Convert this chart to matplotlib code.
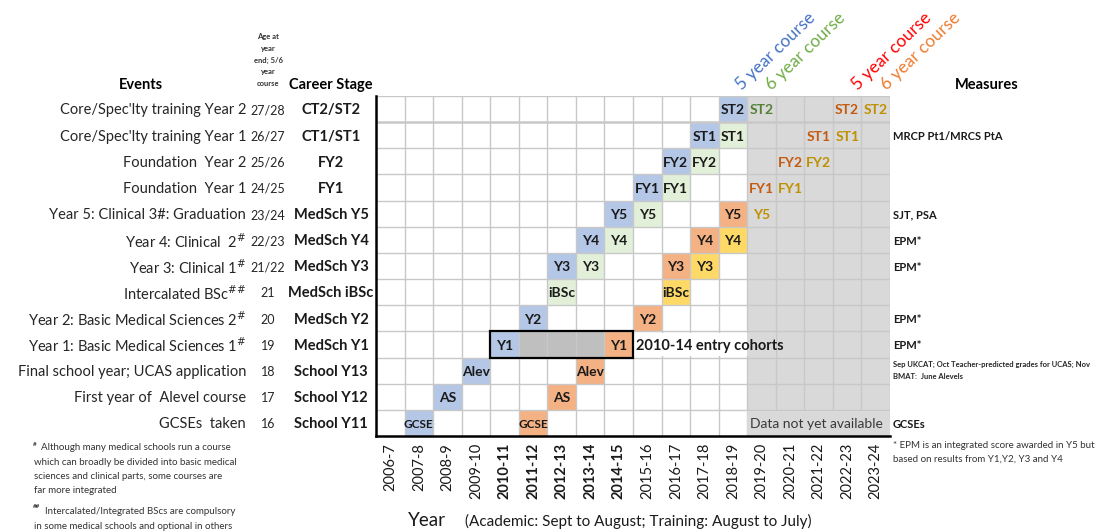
import matplotlib.pyplot as plt
from matplotlib.patches import Rectangle
from matplotlib.transforms import blended_transform_factory
import numpy as np

plt.rcParams['font.family'] = ['Lato', 'DejaVu Sans']

years = ['2006-7', '2007-8', '2008-9', '2009-10', '2010-11', '2011-12', '2012-13',
         '2013-14', '2014-15', '2015-16', '2016-17', '2017-18', '2018-19', '2019-20',
         '2020-21', '2021-22', '2022-23', '2023-24']
bold_years = ['2010-11', '2011-12', '2012-13', '2013-14', '2014-15']
first_missing_year = '2019-20'

stages = ['CT2/ST2', 'CT1/ST1', 'FY2', 'FY1', 'MedSch Y5', 'MedSch Y4', 'MedSch Y3',
          'MedSch iBSc', 'MedSch Y2', 'MedSch Y1', 'School Y13', 'School Y12', 'School Y11']
events = ["Core/Spec'lty training Year 2", "Core/Spec'lty training Year 1",
          'Foundation  Year 2', 'Foundation  Year 1', 'Year 5: Clinical 3#: Graduation',
          r'Year 4: Clinical  2$^{\#}$', r'Year 3: Clinical 1$^{\#}$',
          r'Intercalated BSc$^{\#\#}$', r'Year 2: Basic Medical Sciences 2$^{\#}$',
          r'Year 1: Basic Medical Sciences 1$^{\#}$', 'Final school year; UCAS application',
          'First year of  Alevel course', 'GCSEs  taken']
ages = ['27/28', '26/27', '25/26', '24/25', '23/24', '22/23', '21/22', '21', '20', '19',
        '18', '17', '16']
measures = ['', 'MRCP Pt1/MRCS PtA', '', '', 'SJT, PSA', 'EPM*', 'EPM*', '', 'EPM*',
            'EPM*', '', '', 'GCSEs']
ucas_note = 'Sep UKCAT; Oct Teacher-predicted grades for UCAS; Nov\nBMAT:  June Alevels'

# cohorts: (years, stages, labels)
five_2010_years = ['2007-8', '2008-9', '2009-10', '2010-11', '2011-12', '2012-13', '2013-14',
                   '2014-15', '2015-16', '2016-17', '2017-18', '2018-19']
five_2010_stages = ['School Y11', 'School Y12', 'School Y13', 'MedSch Y1', 'MedSch Y2',
                    'MedSch Y3', 'MedSch Y4', 'MedSch Y5', 'FY1', 'FY2', 'CT1/ST1', 'CT2/ST2']
five_2010_labels = ['GCSE', 'AS', 'Alev', 'Y1', 'Y2', 'Y3', 'Y4', 'Y5', 'FY1', 'FY2',
                    'ST1', 'ST2']

six_2010_years = ['2012-13', '2013-14', '2014-15', '2015-16', '2016-17', '2017-18',
                  '2018-19', '2019-20']
six_2010_stages = ['MedSch iBSc', 'MedSch Y3', 'MedSch Y4', 'MedSch Y5', 'FY1', 'FY2',
                   'CT1/ST1', 'CT2/ST2']
six_2010_labels = ['iBSc', 'Y3', 'Y4', 'Y5', 'FY1', 'FY2', 'ST1', 'ST2']

five_2014_years = ['2011-12', '2012-13', '2013-14', '2014-15', '2015-16', '2016-17',
                   '2017-18', '2018-19', '2019-20', '2020-21', '2021-22', '2022-23']
five_2014_stages = five_2010_stages
five_2014_labels = five_2010_labels

six_2014_years = ['2016-17', '2017-18', '2018-19', '2019-20', '2020-21', '2021-22',
                  '2022-23', '2023-24']
six_2014_stages = six_2010_stages
six_2014_labels = six_2010_labels

cohorts = [
    (five_2010_years, five_2010_stages, five_2010_labels, '#b4c7e7', '#4472c4', '5 year course'),
    (six_2010_years, six_2010_stages, six_2010_labels, '#e2f0d9', '#548235', '6 year course'),
    (five_2014_years, five_2014_stages, five_2014_labels, '#f4b183', '#c55a11', '5 year course'),
    (six_2014_years, six_2014_stages, six_2014_labels, '#ffd966', '#bf9000', '6 year course'),
]
heading_colors = ['#4472c4', '#70ad47', '#ff0000', '#ed7d31']

W, H = 1099, 532
fig = plt.figure(figsize=(W / 100, H / 100), dpi=100)
ax = fig.add_axes([376 / W, 1 - 436 / H, (890 - 376) / W, (436 - 96) / H])
nx, ny = len(years), len(stages)
ax.set_xlim(0, nx)
ax.set_ylim(ny, 0)
grid_c = '#c8c8c8'
miss = years.index(first_missing_year)

ax.add_patch(Rectangle((miss, 0), nx - miss, ny, color='#d9d9d9', lw=0, zorder=0))
for xv in range(1, nx + 1):
    ax.plot([xv, xv], [0, ny], color=grid_c, lw=1, zorder=2)
for yv in range(0, ny):
    ax.plot([0, nx], [yv, yv], color=grid_c, lw=1.8 if yv == 1 else 1, zorder=2)

for cy, cs, cl, fill, tcol, _ in cohorts:
    for y, s, lab in zip(cy, cs, cl):
        c, r = years.index(y), stages.index(s)
        if c < miss:
            ax.add_patch(Rectangle((c, r), 1, 1, color=fill, lw=0, zorder=1))
            col = '#1a1a1a'
        else:
            col = tcol
        fs = 8.5 if lab == 'GCSE' else 10
        ax.text(c + 0.5, r + 0.55, lab, ha='center', va='center', fontsize=fs,
                fontweight='bold', color=col, zorder=6)

# entry cohort box
r1 = stages.index('MedSch Y1')
c0, c1 = years.index('2010-11'), years.index('2014-15')
ax.add_patch(Rectangle((c0 + 1, r1), c1 - c0 - 1, 1, color='#bfbfbf', lw=0, zorder=1))
ax.add_patch(Rectangle((c0, r1), c1 - c0 + 1, 1, fill=False, ec='black', lw=1.6, zorder=5))
ax.add_patch(Rectangle((c1 + 1, r1 + 0.05), miss - c1 - 1, 0.9, color='white', lw=0, zorder=3))
ax.add_patch(Rectangle((miss, r1 + 0.05), 1, 0.9, color='#d9d9d9', lw=0, zorder=3))
ax.text(c1 + 1.1, r1 + 0.55, '2010-14 entry cohorts', ha='left', va='center',
        fontsize=10.5, fontweight='bold', color='#1a1a1a', zorder=6)

r12 = stages.index('School Y11')
ax.add_patch(Rectangle((miss, r12 + 0.05), nx - miss, 0.95, color='#d9d9d9', lw=0, zorder=3))
ax.text(miss + 0.1, r12 + 0.55, 'Data not yet available', ha='left', va='center',
        fontsize=10, color='#3a3a3a', zorder=6)

for sp in ['top', 'right']:
    ax.spines[sp].set_visible(False)
for sp in ['left', 'bottom']:
    ax.spines[sp].set_linewidth(1.8)
    ax.spines[sp].set_zorder(7)
ax.set_yticks([])
ax.set_xticks(np.arange(nx) + 0.5)
ax.set_xticklabels(years, rotation=90, fontsize=10.5, color='#1a1a1a')
for t in ax.get_xticklabels():
    if t.get_text() in bold_years:
        t.set_fontweight('bold')
ax.tick_params(axis='x', length=0, pad=5)

# row labels on the left and right
tr = blended_transform_factory(fig.transFigure, ax.transData)
for i in range(ny):
    yc = i + 0.55
    ax.text(246 / W, yc, events[i], transform=tr, ha='right', va='center', fontsize=10.5,
            color='#262626')
    ax.text(268 / W, yc, ages[i], transform=tr, ha='center', va='center', fontsize=9,
            color='#262626')
    ax.text(331 / W, yc, stages[i], transform=tr, ha='center', va='center', fontsize=10.5,
            fontweight='bold', color='#1a1a1a')
    if measures[i]:
        ax.text(893 / W, yc, measures[i], transform=tr, ha='left', va='center', fontsize=8,
                fontweight='bold', color='#1a1a1a')
ax.text(893 / W, stages.index('School Y13') + 0.5, ucas_note, transform=tr, ha='left',
        va='center', fontsize=5.5, fontweight='bold', color='#262626', linespacing=1.9)


def ftext(x, y, s, **kw):
    fig.text(x / W, 1 - y / H, s, **kw)


ftext(141, 85, 'Events', ha='center', va='center', fontsize=10.5, fontweight='bold')
ftext(331, 85, 'Career Stage', ha='center', va='center', fontsize=10.5, fontweight='bold')
ftext(987, 85, 'Measures', ha='center', va='center', fontsize=10.5, fontweight='bold')
ftext(268, 60, 'Age at\nyear\nend; 5/6\nyear\ncourse', ha='center', va='center',
      fontsize=5.5, fontweight='bold', color='#333333', linespacing=1.75)

starts = [742, 772, 858, 887]
for (cy, cs, cl, fill, tcol, head), x0, hc in zip(cohorts, starts, heading_colors):
    ftext(x0, 91, head, ha='left', va='baseline', rotation=44, rotation_mode='anchor',
          fontsize=12.5, color=hc)

ftext(893, 452, '* EPM is an integrated score awarded in Y5 but\nbased on results from Y1,Y2, Y3 and Y4',
      ha='left', va='center', fontsize=7, color='#333333', linespacing=1.7)

foot1 = ['Although many medical schools run a course',
         'which can broadly be divided into basic medical',
         'sciences and clinical parts, some courses are',
         'far more integrated']
foot2 = ['Intercalated/Integrated BScs are compulsory',
         'in some medical schools and optional in others']
for k, line in enumerate(foot1):
    ftext(41 if k == 0 else 34, 448 + 14.3 * k, line, ha='left', va='center', fontsize=7,
          color='#333333')
ftext(33, 444, '#', ha='left', va='center', fontsize=4.5, fontweight='bold', color='#333333')
for k, line in enumerate(foot2):
    ftext(45 if k == 0 else 34, 512 + 14.3 * k, line, ha='left', va='center', fontsize=7,
          color='#333333')
ftext(33, 507, '##', ha='left', va='center', fontsize=4.5, fontweight='bold', color='#333333')

ftext(408, 521, 'Year', ha='left', va='center', fontsize=13.5, color='#1a1a1a')
ftext(465, 521, '(Academic: Sept to August; Training: August to July)', ha='left',
      va='center', fontsize=11, color='#1a1a1a')

fig.savefig('out.png', dpi=100)
